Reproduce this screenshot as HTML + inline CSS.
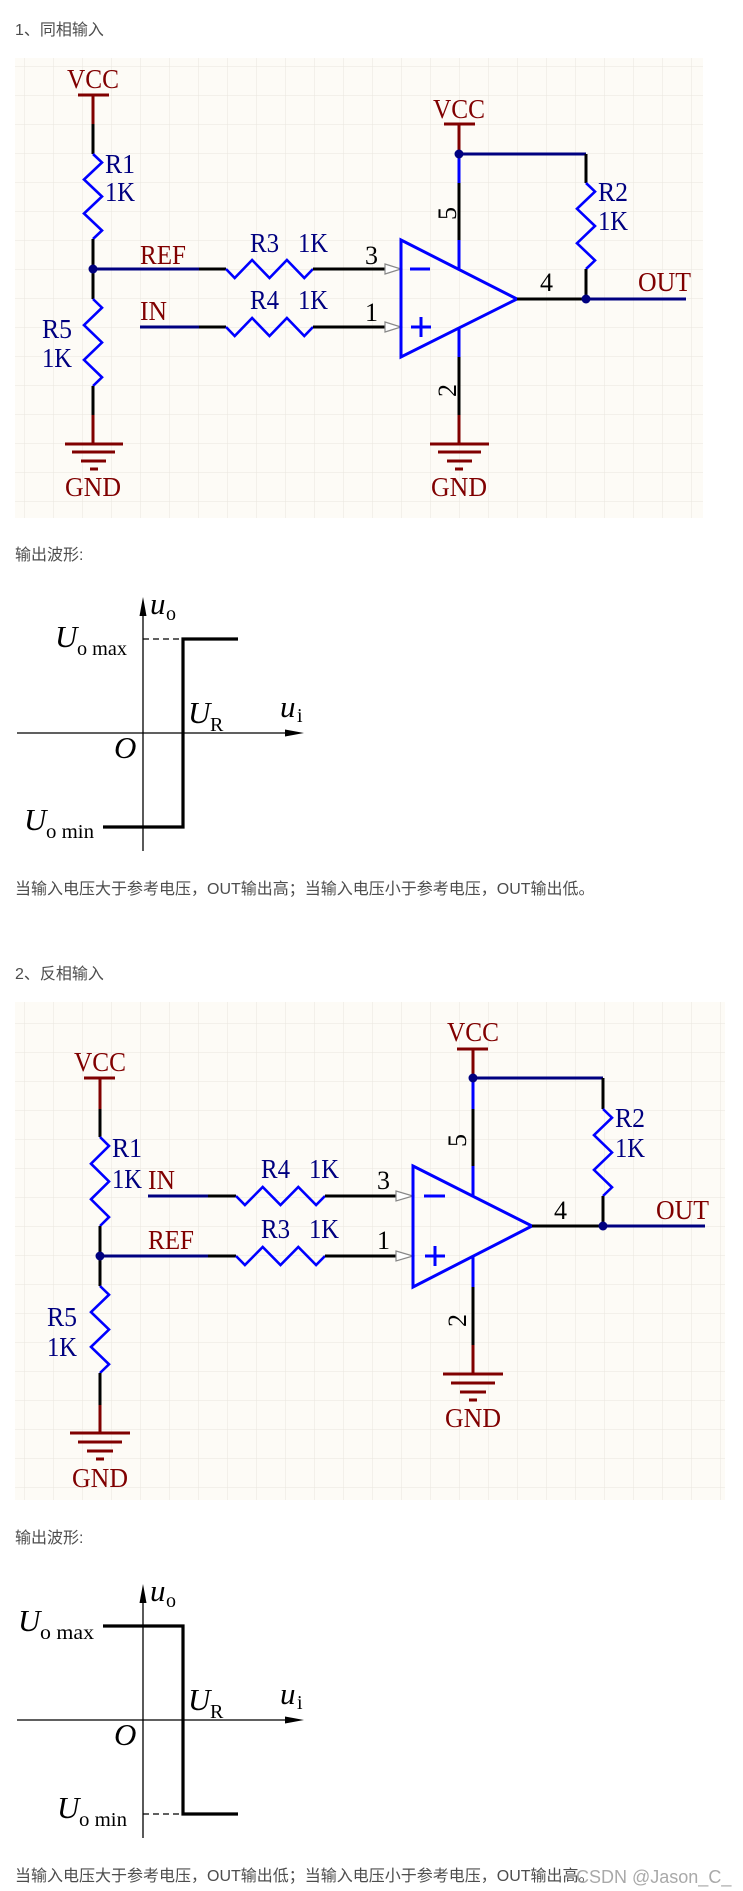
<!DOCTYPE html>
<html><head><meta charset="utf-8"><style>
html,body{margin:0;padding:0;background:#fff;}
svg{display:block;}
.cn{font-family:"Liberation Sans","Noto Sans CJK SC",sans-serif;font-size:16px;fill:#4d4d4d;}
.lr{font-family:"Liberation Serif",serif;font-size:27px;fill:#800000;}
.lb{font-family:"Liberation Serif",serif;font-size:27px;fill:#000080;}
.pn{font-family:"Liberation Serif",serif;font-size:26px;fill:#000;}
.it{font-family:"Liberation Serif",serif;font-style:italic;font-size:31px;fill:#000;}
.sb{font-family:"Liberation Serif",serif;font-size:20px;fill:#000;}
.w{stroke:#000080;stroke-width:3;fill:none;}
.k{stroke:#000;stroke-width:3;fill:none;}
.r{stroke:#800000;stroke-width:3;fill:none;}
.z{stroke:#0000ff;stroke-width:2.6;fill:none;stroke-linejoin:miter;}
.tri{stroke:#0000ff;stroke-width:3;fill:none;}
.arr{stroke:#888;stroke-width:1.2;fill:#fff;}
</style></head><body>
<svg width="743" height="1891" viewBox="0 0 743 1891" xmlns="http://www.w3.org/2000/svg">
<defs>
<pattern id="g" width="29" height="29" patternUnits="userSpaceOnUse" x="24" y="8">
<path d="M0 0H29M0 0V29" stroke="#e9e6de" stroke-width="1" fill="none"/>
</pattern>
</defs>

<text class="cn" x="15" y="35">1、同相输入</text>

<!-- Schematic 1 -->
<rect x="15" y="58" width="688" height="460" fill="#fdfbf6"/>
<rect x="15" y="58" width="688" height="460" fill="url(#g)"/>

<text class="lr" x="93" y="88" text-anchor="middle" textLength="52" lengthAdjust="spacingAndGlyphs">VCC</text>
<line class="r" x1="78" y1="95" x2="109" y2="95"/>
<line class="r" x1="93" y1="95" x2="93" y2="124"/>
<line class="k" x1="93" y1="124" x2="93" y2="154"/>
<polyline class="z" points="93,154 102,162.5 84,179.5 102,196.5 84,213.5 102,230.5 93,239"/>
<line class="k" x1="93" y1="239" x2="93" y2="299"/>
<text class="lb" x="105" y="173" textLength="30" lengthAdjust="spacingAndGlyphs">R1</text>
<text class="lb" x="105" y="201" textLength="30" lengthAdjust="spacingAndGlyphs">1K</text>
<polyline class="z" points="93,299 102,307.7 84,325.1 102,342.5 84,359.9 102,377.3 93,386"/>
<line class="k" x1="93" y1="386" x2="93" y2="415"/>
<line class="r" x1="93" y1="415" x2="93" y2="444"/>
<line class="r" x1="65" y1="444" x2="123" y2="444"/>
<line class="r" x1="72" y1="452" x2="115" y2="452"/>
<line class="r" x1="81" y1="461" x2="106" y2="461"/>
<line class="r" x1="90" y1="469" x2="98" y2="469"/>
<text class="lr" x="93" y="496" text-anchor="middle" textLength="56" lengthAdjust="spacingAndGlyphs">GND</text>
<text class="lb" x="42" y="338" textLength="30" lengthAdjust="spacingAndGlyphs">R5</text>
<text class="lb" x="42" y="367" textLength="30" lengthAdjust="spacingAndGlyphs">1K</text>
<circle cx="93" cy="269" r="4.5" fill="#000080"/>

<line class="w" x1="93" y1="269" x2="199" y2="269"/>
<line class="k" x1="199" y1="269" x2="226" y2="269"/>
<polyline class="z" points="226,269 234.7,278 252.1,260 269.5,278 286.9,260 304.3,278 313,269"/>
<line class="k" x1="313" y1="269" x2="385" y2="269"/>
<polygon class="arr" points="385,264 401,269 385,274"/>
<text class="lr" x="140" y="264" textLength="46" lengthAdjust="spacingAndGlyphs">REF</text>
<text class="lb" x="250" y="252" textLength="29" lengthAdjust="spacingAndGlyphs">R3</text>
<text class="lb" x="298" y="252" textLength="30" lengthAdjust="spacingAndGlyphs">1K</text>
<text class="pn" x="365" y="264">3</text>

<line class="w" x1="140" y1="327" x2="199" y2="327"/>
<line class="k" x1="199" y1="327" x2="226" y2="327"/>
<polyline class="z" points="226,327 234.7,336 252.1,318 269.5,336 286.9,318 304.3,336 313,327"/>
<line class="k" x1="313" y1="327" x2="385" y2="327"/>
<polygon class="arr" points="385,322 401,327 385,332"/>
<text class="lr" x="140" y="320" textLength="27" lengthAdjust="spacingAndGlyphs">IN</text>
<text class="lb" x="250" y="309" textLength="29" lengthAdjust="spacingAndGlyphs">R4</text>
<text class="lb" x="298" y="309" textLength="30" lengthAdjust="spacingAndGlyphs">1K</text>
<text class="pn" x="365" y="321">1</text>

<polygon class="tri" points="401,240 517,299 401,357"/>
<line stroke="#0000ff" stroke-width="3" x1="410" y1="269" x2="430" y2="269"/>
<line stroke="#0000ff" stroke-width="3" x1="411" y1="327" x2="431" y2="327"/>
<line stroke="#0000ff" stroke-width="3" x1="421" y1="317" x2="421" y2="337"/>

<text class="lr" x="459" y="118" text-anchor="middle" textLength="52" lengthAdjust="spacingAndGlyphs">VCC</text>
<line class="r" x1="444" y1="124" x2="475" y2="124"/>
<line class="r" x1="459" y1="124" x2="459" y2="154"/>
<line class="w" x1="459" y1="154" x2="586" y2="154"/>
<line stroke="#0000ff" stroke-width="3" x1="459" y1="154" x2="459" y2="183"/>
<line class="k" x1="459" y1="183" x2="459" y2="240"/>
<line stroke="#0000ff" stroke-width="3" x1="459" y1="240" x2="459" y2="269"/>
<circle cx="459" cy="154" r="4.5" fill="#000080"/>
<text class="pn" transform="translate(456,220) rotate(-90)">5</text>

<line class="k" x1="586" y1="154" x2="586" y2="183"/>
<polyline class="z" points="586,183 595,191.6 577,208.8 595,226 577,243.2 595,260.4 586,269"/>
<line class="k" x1="586" y1="269" x2="586" y2="299"/>
<text class="lb" x="598" y="201" textLength="30" lengthAdjust="spacingAndGlyphs">R2</text>
<text class="lb" x="598" y="230" textLength="30" lengthAdjust="spacingAndGlyphs">1K</text>

<line class="k" x1="517" y1="299" x2="586" y2="299"/>
<line class="w" x1="586" y1="299" x2="686" y2="299"/>
<circle cx="586" cy="299" r="4.5" fill="#000080"/>
<text class="pn" x="540" y="291">4</text>
<text class="lr" x="638" y="291" textLength="53" lengthAdjust="spacingAndGlyphs">OUT</text>

<line stroke="#0000ff" stroke-width="3" x1="459" y1="328" x2="459" y2="357"/>
<line class="k" x1="459" y1="357" x2="459" y2="415"/>
<line class="r" x1="459" y1="415" x2="459" y2="444"/>
<line class="r" x1="430" y1="444" x2="489" y2="444"/>
<line class="r" x1="438" y1="452" x2="481" y2="452"/>
<line class="r" x1="447" y1="461" x2="472" y2="461"/>
<line class="r" x1="455" y1="469" x2="463" y2="469"/>
<text class="lr" x="459" y="496" text-anchor="middle" textLength="56" lengthAdjust="spacingAndGlyphs">GND</text>
<text class="pn" transform="translate(456,397) rotate(-90)">2</text>

<text class="cn" x="15" y="560">输出波形:</text>

<!-- Waveform 1 -->
<line stroke="#000" stroke-width="1.3" x1="143" y1="606" x2="143" y2="851"/>
<polygon points="143,597 139.5,616 146.5,616" fill="#000"/>
<line stroke="#000" stroke-width="1.3" x1="17" y1="733" x2="290" y2="733"/>
<polygon points="304,733 285,729.5 285,736.5" fill="#000"/>
<path d="M103 827H183V639H238" stroke="#000" stroke-width="3.2" fill="none"/>
<line stroke="#000" stroke-width="1.3" stroke-dasharray="6,4" x1="143" y1="639" x2="181" y2="639"/>
<text class="it" x="150" y="614">u</text><text class="sb" x="166" y="620">o</text>
<text class="it" x="55" y="647">U</text><text class="sb" x="77" y="655" textLength="50" lengthAdjust="spacingAndGlyphs">o max</text>
<text class="it" x="188" y="723">U</text><text class="sb" x="210" y="731">R</text>
<text class="it" x="280" y="717">u</text><text class="sb" x="297" y="722">i</text>
<text class="it" x="114" y="758">O</text>
<text class="it" x="24" y="830">U</text><text class="sb" x="46" y="838" textLength="48" lengthAdjust="spacingAndGlyphs">o min</text>

<text class="cn" x="15" y="894">当输入电压大于参考电压，OUT输出高；当输入电压小于参考电压，OUT输出低。</text>

<text class="cn" x="15" y="979">2、反相输入</text>

<!-- Schematic 2 -->
<rect x="15" y="1002" width="710" height="498" fill="#fdfbf6"/>
<rect x="15" y="1002" width="710" height="498" fill="url(#g)"/>

<text class="lr" x="100" y="1071" text-anchor="middle" textLength="52" lengthAdjust="spacingAndGlyphs">VCC</text>
<line class="r" x1="84" y1="1078" x2="115" y2="1078"/>
<line class="r" x1="100" y1="1078" x2="100" y2="1109"/>
<line class="k" x1="100" y1="1109" x2="100" y2="1137"/>
<polyline class="z" points="100,1137 109,1145.9 91,1163.7 109,1181.5 91,1199.3 109,1217.1 100,1226"/>
<line class="k" x1="100" y1="1226" x2="100" y2="1286"/>
<text class="lb" x="112" y="1157" textLength="30" lengthAdjust="spacingAndGlyphs">R1</text>
<text class="lb" x="112" y="1188" textLength="30" lengthAdjust="spacingAndGlyphs">1K</text>
<polyline class="z" points="100,1286 109,1294.7 91,1312.1 109,1329.5 91,1346.9 109,1364.3 100,1373"/>
<line class="k" x1="100" y1="1373" x2="100" y2="1405"/>
<line class="r" x1="100" y1="1405" x2="100" y2="1433"/>
<line class="r" x1="70" y1="1433" x2="130" y2="1433"/>
<line class="r" x1="78" y1="1442" x2="122" y2="1442"/>
<line class="r" x1="87" y1="1451" x2="113" y2="1451"/>
<line class="r" x1="96" y1="1459" x2="104" y2="1459"/>
<text class="lr" x="100" y="1487" text-anchor="middle" textLength="56" lengthAdjust="spacingAndGlyphs">GND</text>
<text class="lb" x="47" y="1326" textLength="30" lengthAdjust="spacingAndGlyphs">R5</text>
<text class="lb" x="47" y="1356" textLength="30" lengthAdjust="spacingAndGlyphs">1K</text>
<circle cx="100" cy="1256" r="4.5" fill="#000080"/>

<line class="w" x1="148" y1="1196" x2="208" y2="1196"/>
<line class="k" x1="208" y1="1196" x2="236" y2="1196"/>
<polyline class="z" points="236,1196 244.9,1205 262.7,1187 280.5,1205 298.3,1187 316.1,1205 325,1196"/>
<line class="k" x1="325" y1="1196" x2="396" y2="1196"/>
<polygon class="arr" points="396,1191 413,1196 396,1201"/>
<text class="lr" x="148" y="1189" textLength="27" lengthAdjust="spacingAndGlyphs">IN</text>
<text class="lb" x="261" y="1178" textLength="29" lengthAdjust="spacingAndGlyphs">R4</text>
<text class="lb" x="309" y="1178" textLength="30" lengthAdjust="spacingAndGlyphs">1K</text>
<text class="pn" x="377" y="1189">3</text>

<line class="w" x1="100" y1="1256" x2="208" y2="1256"/>
<line class="k" x1="208" y1="1256" x2="236" y2="1256"/>
<polyline class="z" points="236,1256 244.9,1265 262.7,1247 280.5,1265 298.3,1247 316.1,1265 325,1256"/>
<line class="k" x1="325" y1="1256" x2="396" y2="1256"/>
<polygon class="arr" points="396,1251 413,1256 396,1261"/>
<text class="lr" x="148" y="1249" textLength="46" lengthAdjust="spacingAndGlyphs">REF</text>
<text class="lb" x="261" y="1238" textLength="29" lengthAdjust="spacingAndGlyphs">R3</text>
<text class="lb" x="309" y="1238" textLength="30" lengthAdjust="spacingAndGlyphs">1K</text>
<text class="pn" x="377" y="1249">1</text>

<polygon class="tri" points="413,1166 532,1226 413,1287"/>
<line stroke="#0000ff" stroke-width="3" x1="424" y1="1196" x2="445" y2="1196"/>
<line stroke="#0000ff" stroke-width="3" x1="425" y1="1256" x2="445" y2="1256"/>
<line stroke="#0000ff" stroke-width="3" x1="435" y1="1246" x2="435" y2="1266"/>

<text class="lr" x="473" y="1041" text-anchor="middle" textLength="52" lengthAdjust="spacingAndGlyphs">VCC</text>
<line class="r" x1="457" y1="1049" x2="488" y2="1049"/>
<line class="r" x1="473" y1="1049" x2="473" y2="1078"/>
<line class="w" x1="473" y1="1078" x2="603" y2="1078"/>
<line stroke="#0000ff" stroke-width="3" x1="473" y1="1078" x2="473" y2="1109"/>
<line class="k" x1="473" y1="1109" x2="473" y2="1166"/>
<line stroke="#0000ff" stroke-width="3" x1="473" y1="1166" x2="473" y2="1196"/>
<circle cx="473" cy="1078" r="4.5" fill="#000080"/>
<text class="pn" transform="translate(466,1147) rotate(-90)">5</text>

<line class="k" x1="603" y1="1078" x2="603" y2="1109"/>
<polyline class="z" points="603,1109 612,1117.7 594,1135.1 612,1152.5 594,1169.9 612,1187.3 603,1196"/>
<line class="k" x1="603" y1="1196" x2="603" y2="1226"/>
<text class="lb" x="615" y="1127" textLength="30" lengthAdjust="spacingAndGlyphs">R2</text>
<text class="lb" x="615" y="1157" textLength="30" lengthAdjust="spacingAndGlyphs">1K</text>

<line class="k" x1="532" y1="1226" x2="603" y2="1226"/>
<line class="w" x1="603" y1="1226" x2="705" y2="1226"/>
<circle cx="603" cy="1226" r="4.5" fill="#000080"/>
<text class="pn" x="554" y="1219">4</text>
<text class="lr" x="656" y="1219" textLength="53" lengthAdjust="spacingAndGlyphs">OUT</text>

<line stroke="#0000ff" stroke-width="3" x1="473" y1="1256" x2="473" y2="1287"/>
<line class="k" x1="473" y1="1287" x2="473" y2="1345"/>
<line class="r" x1="473" y1="1345" x2="473" y2="1374"/>
<line class="r" x1="443" y1="1374" x2="503" y2="1374"/>
<line class="r" x1="451" y1="1383" x2="495" y2="1383"/>
<line class="r" x1="460" y1="1392" x2="486" y2="1392"/>
<line class="r" x1="469" y1="1400" x2="477" y2="1400"/>
<text class="lr" x="473" y="1427" text-anchor="middle" textLength="56" lengthAdjust="spacingAndGlyphs">GND</text>
<text class="pn" transform="translate(466,1327) rotate(-90)">2</text>

<text class="cn" x="15" y="1543">输出波形:</text>

<!-- Waveform 2 -->
<line stroke="#000" stroke-width="1.3" x1="143" y1="1593" x2="143" y2="1838"/>
<polygon points="143,1584 139.5,1603 146.5,1603" fill="#000"/>
<line stroke="#000" stroke-width="1.3" x1="17" y1="1720" x2="290" y2="1720"/>
<polygon points="304,1720 285,1716.5 285,1723.5" fill="#000"/>
<path d="M103 1626H183V1814H238" stroke="#000" stroke-width="3.2" fill="none"/>
<line stroke="#000" stroke-width="1.3" stroke-dasharray="6,4" x1="143" y1="1814" x2="181" y2="1814"/>
<text class="it" x="150" y="1601">u</text><text class="sb" x="166" y="1607">o</text>
<text class="it" x="18" y="1631">U</text><text class="sb" x="40" y="1639" textLength="54" lengthAdjust="spacingAndGlyphs">o max</text>
<text class="it" x="188" y="1710">U</text><text class="sb" x="210" y="1718">R</text>
<text class="it" x="280" y="1704">u</text><text class="sb" x="297" y="1709">i</text>
<text class="it" x="114" y="1745">O</text>
<text class="it" x="57" y="1818">U</text><text class="sb" x="79" y="1826" textLength="48" lengthAdjust="spacingAndGlyphs">o min</text>

<text class="cn" x="15" y="1881">当输入电压大于参考电压，OUT输出低；当输入电压小于参考电压，OUT输出高。</text>
<text x="576" y="1883" font-family="Liberation Sans, sans-serif" font-size="18" fill="#9a9a9a" fill-opacity="0.85">CSDN @Jason_C_</text>
</svg>
</body></html>
